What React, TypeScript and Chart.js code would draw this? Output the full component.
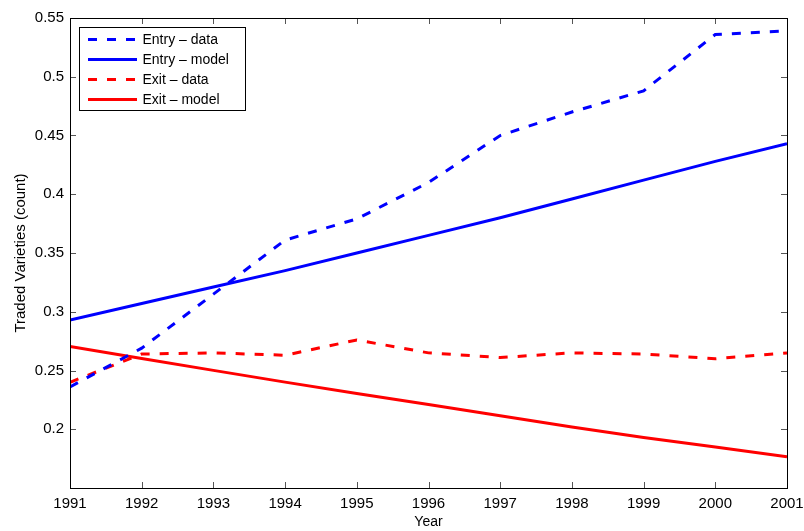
import { useEffect, useRef } from "react";
import { Chart, registerables } from "chart.js";

Chart.register(...registerables);

// Observation years
const years = [1991, 1992, 1993, 1994, 1995, 1996, 1997, 1998, 1999, 2000, 2001];

// Series values per year
const entryData = [0.236, 0.269, 0.315, 0.361, 0.379, 0.41, 0.45, 0.47, 0.488, 0.536, 0.539];
const entryModel = [0.293, 0.307, 0.321, 0.335, 0.35, 0.365, 0.38, 0.396, 0.412, 0.428, 0.443];
const exitData = [0.24, 0.264, 0.265, 0.263, 0.276, 0.265, 0.261, 0.265, 0.264, 0.26, 0.265];
const exitModel = [0.2705, 0.2603, 0.2501, 0.2401, 0.2305, 0.221, 0.2115, 0.202, 0.193, 0.1848, 0.1765];

// Axis ticks
const yTicks = [0.2, 0.25, 0.3, 0.35, 0.4, 0.45, 0.5, 0.55];
const xTicks = years;

const seriesLabels = ["Entry \u2013 data", "Entry \u2013 model", "Exit \u2013 data", "Exit \u2013 model"];

const FONT = "'Liberation Sans', Arial, Helvetica, sans-serif";
const BLUE = "#0000ff";
const RED = "#ff0000";
const DASH = [9, 10];

const toPoints = (vals: number[]) => vals.map((v, i) => ({ x: years[i], y: v }));

// Draws the boxed frame with inward ticks on all four sides, then the legend box.
const framePlugin = {
  id: "frameAndLegend",
  afterDraw(chart: any) {
    const { ctx, chartArea } = chart;
    const { left, right, top, bottom } = chartArea;
    const xs = chart.scales.x;
    const ys = chart.scales.y;
    const tl = 6;
    ctx.save();

    // ticks
    ctx.strokeStyle = "#555";
    ctx.lineWidth = 1;
    ctx.beginPath();
    for (const t of xTicks) {
      const px = Math.round(xs.getPixelForValue(t)) + 0.5;
      ctx.moveTo(px, bottom);
      ctx.lineTo(px, bottom - tl);
      ctx.moveTo(px, top);
      ctx.lineTo(px, top + tl);
    }
    for (const t of yTicks) {
      const py = Math.round(ys.getPixelForValue(t)) + 0.5;
      ctx.moveTo(left, py);
      ctx.lineTo(left + tl, py);
      ctx.moveTo(right, py);
      ctx.lineTo(right - tl, py);
    }
    ctx.stroke();

    // frame
    ctx.strokeStyle = "#000";
    ctx.lineWidth = 1;
    ctx.strokeRect(Math.round(left) + 0.5, Math.round(top) + 0.5, Math.round(right - left), Math.round(bottom - top));

    // legend
    const bx = Math.round(left) + 9.5;
    const by = Math.round(top) + 9.5;
    const bw = 166;
    const bh = 83;
    ctx.fillStyle = "#fff";
    ctx.fillRect(bx, by, bw, bh);
    ctx.strokeStyle = "#000";
    ctx.strokeRect(bx, by, bw, bh);
    ctx.font = `14px ${FONT}`;
    ctx.textBaseline = "middle";
    ctx.textAlign = "left";
    chart.data.datasets.forEach((ds: any, i: number) => {
      const cy = by + 12 + i * 20;
      ctx.beginPath();
      ctx.strokeStyle = ds.borderColor;
      ctx.lineWidth = 3;
      ctx.setLineDash(ds.borderDash || []);
      ctx.moveTo(bx + 8.5, cy);
      ctx.lineTo(bx + 57.5, cy);
      ctx.stroke();
      ctx.setLineDash([]);
      ctx.fillStyle = "#000";
      ctx.fillText(ds.label, bx + 63, cy + 0.5);
    });
    ctx.restore();
  },
};

export default function App() {
  const canvasRef = useRef<HTMLCanvasElement | null>(null);

  useEffect(() => {
    if (!canvasRef.current) return;
    const chart = new Chart(canvasRef.current, {
      type: "line",
      data: {
        datasets: [
          {
            label: seriesLabels[0],
            data: toPoints(entryData),
            borderColor: BLUE,
            borderDash: DASH,
            borderWidth: 3,
            pointRadius: 0,
            tension: 0,
          },
          {
            label: seriesLabels[1],
            data: toPoints(entryModel),
            borderColor: BLUE,
            borderWidth: 3,
            pointRadius: 0,
            tension: 0,
          },
          {
            label: seriesLabels[2],
            data: toPoints(exitData),
            borderColor: RED,
            borderDash: DASH,
            borderWidth: 3,
            pointRadius: 0,
            tension: 0,
          },
          {
            label: seriesLabels[3],
            data: toPoints(exitModel),
            borderColor: RED,
            borderWidth: 3,
            pointRadius: 0,
            tension: 0,
          },
        ],
      },
      options: {
        responsive: false,
        animation: false,
        events: [],
        layout: { padding: { top: 18, right: 17, left: 0, bottom: 0 } },
        plugins: {
          legend: { display: false },
          tooltip: { enabled: false },
        },
        scales: {
          x: {
            type: "linear",
            min: 1991,
            max: 2001,
            grid: { display: false, drawTicks: false },
            border: { display: false },
            afterBuildTicks: (s: any) => {
              s.ticks = xTicks.map((v) => ({ value: v }));
            },
            afterFit: (s: any) => {
              s.height = 43;
              s.paddingLeft = 0;
              s.paddingRight = 0;
            },
            ticks: {
              autoSkip: false,
              maxRotation: 0,
              padding: 7,
              color: "#000",
              font: { family: FONT, size: 15 },
              callback: (v: any) => String(v),
            },
            title: {
              display: true,
              text: "Year",
              color: "#000",
              font: { family: FONT, size: 14 },
              padding: { top: 0, bottom: 0 },
            },
          },
          y: {
            type: "linear",
            min: 0.15,
            max: 0.55,
            grid: { display: false, drawTicks: false },
            border: { display: false },
            afterBuildTicks: (s: any) => {
              s.ticks = yTicks.map((v) => ({ value: v }));
            },
            afterFit: (s: any) => {
              s.width = 70;
              s.paddingTop = 0;
              s.paddingBottom = 0;
            },
            ticks: {
              autoSkip: false,
              padding: 6,
              color: "#000",
              font: { family: FONT, size: 15 },
              callback: (v: any) => String(+Number(v).toFixed(2)),
            },
            title: {
              display: true,
              text: "Traded Varieties (count)",
              color: "#000",
              font: { family: FONT, size: 15 },
              padding: { top: 12, bottom: 0 },
            },
          },
        },
      },
      plugins: [framePlugin],
    });
    return () => chart.destroy();
  }, []);

  return (
    <div style={{ position: "absolute", left: 0, top: 0, width: 804, height: 531, background: "#fff" }}>
      <canvas ref={canvasRef} width={804} height={531} style={{ display: "block" }} />
    </div>
  );
}
